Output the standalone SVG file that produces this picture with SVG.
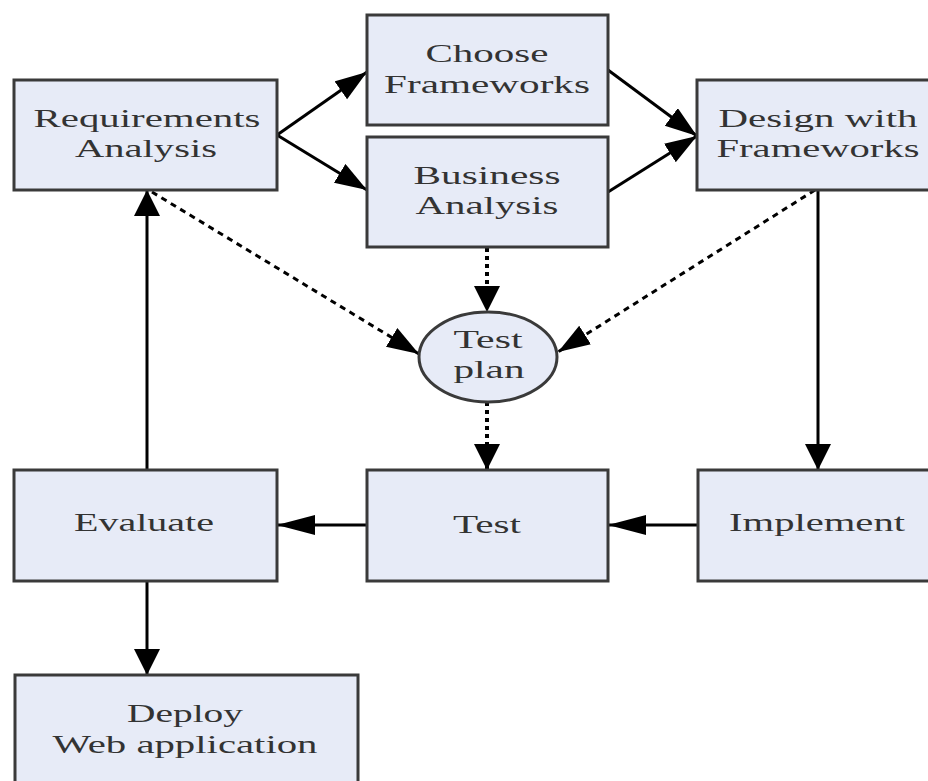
<svg xmlns="http://www.w3.org/2000/svg" width="928" height="781" viewBox="0 0 928 781">
  <defs>
    <style>
      .box { fill: #e7ebf7; stroke: #3a3a3a; stroke-width: 3; }
      .lbl { font-family: "Liberation Serif", "Times New Roman", serif; font-size: 26px; fill: #333; text-anchor: middle; }
      .solid { fill: none; stroke: #000; stroke-width: 3; }
      .dash { fill: none; stroke: #000; stroke-width: 3; stroke-dasharray: 6 5; }
      .dot { fill: none; stroke: #000; stroke-width: 4; stroke-dasharray: 4 4; }
    </style>
    <!-- vertical heads -->
    <marker id="arrow-v" markerUnits="userSpaceOnUse" markerWidth="28" markerHeight="28" refX="26" refY="13" orient="auto">
      <path d="M0,0 L26,13 L0,26 Z" fill="#000"/>
    </marker>
    <!-- horizontal heads (longer, narrower) -->
    <marker id="arrow-h" markerUnits="userSpaceOnUse" markerWidth="40" markerHeight="22" refX="38" refY="10" orient="auto">
      <path d="M0,0 L38,10 L0,20 Z" fill="#000"/>
    </marker>
    <!-- diagonal heads -->
    <marker id="arrow-d" markerUnits="userSpaceOnUse" markerWidth="34" markerHeight="26" refX="32" refY="11" orient="auto">
      <path d="M0,0 L32,11 L0,22 Z" fill="#000"/>
    </marker>
  </defs>

  <rect width="928" height="781" fill="#fff"/>

  <g id="connectors">
    <path class="solid" d="M277,135 L367,72" marker-end="url(#arrow-d)"/>
    <path class="solid" d="M277,135 L367,190" marker-end="url(#arrow-d)"/>
    <path class="solid" d="M608,70 L697,136" marker-end="url(#arrow-d)"/>
    <path class="solid" d="M608,192 L697,136" marker-end="url(#arrow-d)"/>
    <path class="dot" d="M487,248 L487,312" marker-end="url(#arrow-v)"/>
    <path class="dash" d="M152,192 L419,354" marker-end="url(#arrow-d)"/>
    <path class="dash" d="M815,190 L558,352" marker-end="url(#arrow-d)"/>
    <path class="solid" d="M818,190 L818,470" marker-end="url(#arrow-v)"/>
    <path class="dot" d="M487,402 L487,470" marker-end="url(#arrow-v)"/>
    <path class="solid" d="M698,525 L608,525" marker-end="url(#arrow-h)"/>
    <path class="solid" d="M367,525 L277,525" marker-end="url(#arrow-h)"/>
    <path class="solid" d="M147,470 L147,190" marker-end="url(#arrow-v)"/>
    <path class="solid" d="M147,581 L147,675" marker-end="url(#arrow-v)"/>
  </g>

  <g id="requirements">
    <rect class="box" x="14" y="80" width="263" height="110"/>
    <text class="lbl" x="147" y="127" textLength="227" lengthAdjust="spacingAndGlyphs">Requirements</text>
    <text class="lbl" x="146" y="157" textLength="142" lengthAdjust="spacingAndGlyphs">Analysis</text>
  </g>

  <g id="choose">
    <rect class="box" x="367" y="15" width="241" height="110"/>
    <text class="lbl" x="487" y="62" textLength="123" lengthAdjust="spacingAndGlyphs">Choose</text>
    <text class="lbl" x="487" y="93" textLength="206" lengthAdjust="spacingAndGlyphs">Frameworks</text>
  </g>

  <g id="business">
    <rect class="box" x="367" y="137" width="241" height="110"/>
    <text class="lbl" x="487" y="184" textLength="147" lengthAdjust="spacingAndGlyphs">Business</text>
    <text class="lbl" x="487" y="214" textLength="143" lengthAdjust="spacingAndGlyphs">Analysis</text>
  </g>

  <g id="design">
    <rect class="box" x="697" y="80" width="240" height="110"/>
    <text class="lbl" x="818" y="127" textLength="199" lengthAdjust="spacingAndGlyphs">Design with</text>
    <text class="lbl" x="818" y="157" textLength="203" lengthAdjust="spacingAndGlyphs">Frameworks</text>
  </g>

  <g id="testplan">
    <ellipse class="box" cx="488" cy="357" rx="69" ry="45"/>
    <text class="lbl" x="488" y="348" textLength="69" lengthAdjust="spacingAndGlyphs">Test</text>
    <text class="lbl" x="489" y="378" textLength="71" lengthAdjust="spacingAndGlyphs">plan</text>
  </g>

  <g id="evaluate">
    <rect class="box" x="14" y="470" width="263" height="111"/>
    <text class="lbl" x="144" y="531" textLength="140" lengthAdjust="spacingAndGlyphs">Evaluate</text>
  </g>

  <g id="test">
    <rect class="box" x="367" y="470" width="241" height="111"/>
    <text class="lbl" x="487" y="533" textLength="68" lengthAdjust="spacingAndGlyphs">Test</text>
  </g>

  <g id="implement">
    <rect class="box" x="698" y="470" width="240" height="111"/>
    <text class="lbl" x="817" y="531" textLength="176" lengthAdjust="spacingAndGlyphs">Implement</text>
  </g>

  <g id="deploy">
    <rect class="box" x="15" y="675" width="343" height="120"/>
    <text class="lbl" x="185" y="722" textLength="116" lengthAdjust="spacingAndGlyphs">Deploy</text>
    <text class="lbl" x="185" y="753" textLength="265" lengthAdjust="spacingAndGlyphs">Web application</text>
  </g>
</svg>
